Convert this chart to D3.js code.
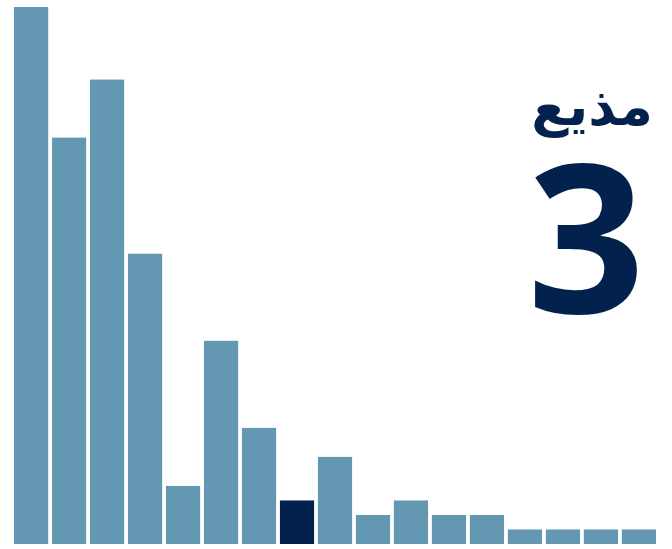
<!DOCTYPE html>
<html>
<head>
<meta charset="utf-8">
<script src="https://cdn.jsdelivr.net/npm/d3@7"></script>
<style>
  body { margin: 0; background: #fff; }
  svg { display: block; }
</style>
</head>
<body>
<svg width="672" height="549"></svg>
<script>
  const categories = d3.range(1, 18).map(String);
  const values = [37, 28, 32, 20, 4, 14, 8, 3, 6, 2, 3, 2, 2, 1, 1, 1, 1];
  const highlight = '8';
  const label = 'مذيع';
  const labelValue = values[categories.indexOf(highlight)];

  const svg = d3.select('svg');

  const x = d3.scaleBand()
    .domain(categories)
    .range([14, 656])
    .paddingInner(0.1)
    .paddingOuter(0);

  const y = d3.scaleLinear()
    .domain([0, 37])
    .range([544, 7]);

  svg.selectAll('rect.bar')
    .data(values)
    .enter().append('rect')
      .attr('class', 'bar')
      .attr('x', (d, i) => x(categories[i]))
      .attr('y', d => y(d))
      .attr('width', x.bandwidth())
      .attr('height', d => y(0) - y(d))
      .attr('fill', (d, i) => categories[i] === highlight ? '#03214d' : '#6497b1');

  svg.append('text')
    .attr('x', 653)
    .attr('y', 125)
    .attr('text-anchor', 'end')
    .attr('font-family', 'DejaVu Sans')
    .attr('font-weight', 'bold')
    .attr('font-size', 54)
    .attr('fill', '#03214d')
    .text(label);

  svg.append('text')
    .attr('x', 645)
    .attr('y', 313)
    .attr('text-anchor', 'end')
    .attr('font-family', 'Open Sans')
    .attr('font-weight', 700)
    .attr('font-size', 206)
    .attr('fill', '#03214d')
    .text(labelValue);
</script>
</body>
</html>
